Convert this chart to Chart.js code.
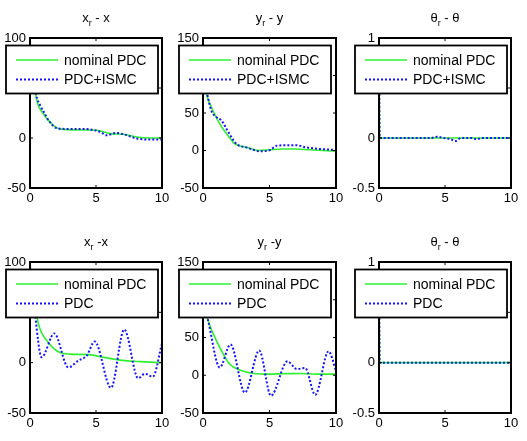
<!DOCTYPE html>
<html>
<head>
<meta charset="utf-8">
<script src="https://cdn.jsdelivr.net/npm/chart.js@4.4.1/dist/chart.umd.min.js"></script>
<style>
  html, body { margin: 0; padding: 0; background: #fff; }
  #fig { position: relative; width: 527px; height: 441px; overflow: hidden; }
  #fig canvas { position: absolute; }
</style>
</head>
<body>
<div id="fig"></div>
<script>
const FONT = "'Liberation Sans', Arial, sans-serif";
const GREEN = '#2ef02e';
const BLUE = '#1414ff';

// ── data ────────────────────────────────────────────────────
// top row: nominal PDC vs PDC+ISMC
const xTopNomT  = [0, 0.2, 0.46, 1.0, 1.77, 2.15, 2.8, 4, 5.06, 6.07, 7.08, 8.1, 9, 10];
const xTopNomV  = [97, 70, 41, 24.5, 12.7, 9.4, 8.4, 8, 7.7, 4.4, 3.7, 1, 0, 0];
const xTopSmcT  = [0, 0.2, 0.46, 0.8, 1.0, 1.5, 2.0, 3.0, 4.0, 5.0, 5.4, 5.8, 6.5, 7.1, 8.1, 9, 10];
const xTopSmcV  = [97, 72, 44, 32, 27, 16, 10, 9, 9, 7.5, 5.5, 2.7, 5, 3.7, -0.6, -1.5, -1.6];

const yTopNomT  = [0, 0.33, 0.76, 1.26, 1.89, 2.4, 3.28, 4.2, 5, 6, 7, 8, 9, 10];
const yTopNomV  = [100, 71, 53, 35.5, 19.8, 8.7, 4.2, 0, 1, 2, 2, 1, 0, -1];
const yTopSmcT  = [0, 0.33, 0.63, 1.01, 1.39, 1.77, 2.14, 2.52, 3.28, 4.3, 5.04, 5.54, 6.3, 7, 7.8, 8.8, 10];
const yTopSmcV  = [100, 74, 53, 44.5, 40, 28.8, 17.6, 8.7, 4, -1, 0.7, 6.4, 7, 7, 4, 2, 0.7];

const thTopNomT = [0, 0.05, 10];
const thTopNomV = [1, 0, 0];
const thTopSmcT = [0, 0.05, 3.9, 4.4, 4.9, 5.4, 5.8, 6.2, 7.0, 7.4, 7.8, 10];
const thTopSmcV = [1, 0, 0, 0.012, 0, -0.01, -0.03, 0, 0, -0.012, 0, 0];

// bottom row: nominal PDC vs PDC
const xBotNomT  = [0, 0.3, 0.63, 1.39, 2.27, 3, 4.4, 5.7, 7.2, 8.4, 10];
const xBotNomV  = [97, 65, 39, 20, 10, 8.5, 8, 5, 2, 1, 0];
const xBotPdcT  = [0, 0.4, 0.88, 1.84, 2.9, 3.66, 4.3, 4.9, 6.14, 7.14, 8.2, 8.7, 9.3, 10];
const xBotPdcV  = [97, 46, 5.3, 29, -4.7, 2, 7, 21, -25, 33, -15.5, -11, -14, 19];

const yBotNomT  = [0, 0.38, 1.26, 2.0, 2.77, 3.8, 5, 6, 7.3, 8.5, 10];
const yBotNomV  = [100, 72.7, 37, 15, 7, 2.4, 1.5, 2, 2.4, 1.5, 1.5];
const yBotPdcT  = [0, 0.38, 1.26, 2.07, 3.15, 4.23, 5.11, 6.35, 7.05, 7.68, 8.44, 9.44, 10];
const yBotPdcV  = [100, 72.7, 10.4, 40.7, -23, 32.7, -27, 18.4, 8.2, 9.6, -26, 31.7, 6];

const thBotNomT = [0, 0.05, 10];
const thBotNomV = [1, 0, 0];
const thBotPdcT = [0, 0.05, 10];
const thBotPdcV = [1, 0, 0];

const xTicks = { min: 0, max: 10, step: 5 };

const pts = (t, v) => t.map((x, i) => ({ x, y: v[i] }));

// ── panel layout (axes box in page pixels) ──────────────────
const PAD_L = 32, PAD_T = 32, PAD_R = 12, PAD_B = 22;

const panels = [
  { box: [30, 38, 162, 187.5],  title: ['x', 'r', ' - x'], y: [-50, 100, 50],
    nom: pts(xTopNomT, xTopNomV), alt: pts(xTopSmcT, xTopSmcV), altLabel: 'PDC+ISMC' },
  { box: [203, 38, 336, 187.5], title: ['y', 'r', ' - y'], y: [-50, 150, 50],
    nom: pts(yTopNomT, yTopNomV), alt: pts(yTopSmcT, yTopSmcV), altLabel: 'PDC+ISMC' },
  { box: [379, 38, 511, 187.5], title: ['θ', 'r', ' - θ'], y: [-0.5, 1, 0.5],
    nom: pts(thTopNomT, thTopNomV), alt: pts(thTopSmcT, thTopSmcV), altLabel: 'PDC+ISMC' },
  { box: [30, 262, 162, 412.5],  title: ['x', 'r', ' -x'], y: [-50, 100, 50],
    nom: pts(xBotNomT, xBotNomV), alt: pts(xBotPdcT, xBotPdcV), altLabel: 'PDC' },
  { box: [203, 262, 336, 412.5], title: ['y', 'r', ' -y'], y: [-50, 150, 50],
    nom: pts(yBotNomT, yBotNomV), alt: pts(yBotPdcT, yBotPdcV), altLabel: 'PDC' },
  { box: [379, 262, 511, 412.5], title: ['θ', 'r', ' - θ'], y: [-0.5, 1, 0.5],
    nom: pts(thBotNomT, thBotNomV), alt: pts(thBotPdcT, thBotPdcV), altLabel: 'PDC' },
];

// ── plugins: MATLAB-style frame, title with subscript, boxed legend ──
const framePlugin = {
  id: 'frame',
  afterDatasetsDraw(chart) {
    const { ctx, chartArea: a, scales } = chart;
    ctx.save();
    ctx.strokeStyle = '#000';
    ctx.lineWidth = 1;
    ctx.beginPath();
    scales.x.ticks.forEach(t => {
      const px = scales.x.getPixelForValue(t.value);
      ctx.moveTo(px, a.bottom); ctx.lineTo(px, a.bottom - 3);
      ctx.moveTo(px, a.top); ctx.lineTo(px, a.top + 3);
    });
    scales.y.ticks.forEach(t => {
      const py = scales.y.getPixelForValue(t.value);
      ctx.moveTo(a.left, py); ctx.lineTo(a.left + 3, py);
      ctx.moveTo(a.right, py); ctx.lineTo(a.right - 3, py);
    });
    ctx.stroke();
    ctx.lineWidth = 2;
    ctx.strokeRect(a.left, a.top, a.right - a.left, a.bottom - a.top);
    ctx.restore();
  }
};

const titleLegendPlugin = {
  id: 'titleLegend',
  afterDraw(chart, args, opts) {
    const { ctx, chartArea: a } = chart;
    ctx.save();
    // title
    const [base, sub, rest] = opts.title;
    ctx.fillStyle = '#000';
    ctx.textBaseline = 'alphabetic';
    ctx.font = `13px ${FONT}`;
    const wb = ctx.measureText(base).width;
    const wr = ctx.measureText(rest).width;
    ctx.font = `9px ${FONT}`;
    const ws = ctx.measureText(sub).width;
    const cx = (a.left + a.right) / 2;
    const by = a.top - 16;
    let x = cx - (wb + ws + wr) / 2;
    ctx.font = `13px ${FONT}`;
    ctx.fillText(base, x, by); x += wb;
    ctx.font = `9px ${FONT}`;
    ctx.fillText(sub, x, by + 4); x += ws;
    ctx.font = `13px ${FONT}`;
    ctx.fillText(rest, x, by);

    // legend
    const lx = a.left - 24, ly = a.top + 7.5, lw = 152, lh = 48;
    ctx.fillStyle = '#fff';
    ctx.fillRect(lx, ly, lw, lh);
    ctx.strokeStyle = '#000';
    ctx.lineWidth = 1.8;
    ctx.strokeRect(lx, ly, lw, lh);
    ctx.font = `14px ${FONT}`;
    ctx.textBaseline = 'middle';
    const rows = [ly + 14.5, ly + 34];
    chart.data.datasets.forEach((ds, i) => {
      const ry = rows[i];
      ctx.beginPath();
      ctx.strokeStyle = ds.borderColor;
      ctx.lineWidth = ds.borderWidth;
      ctx.setLineDash(ds.borderDash || []);
      ctx.moveTo(lx + 10, ry); ctx.lineTo(lx + 52, ry);
      ctx.stroke();
      ctx.setLineDash([]);
      ctx.fillStyle = '#000';
      ctx.fillText(ds.label, lx + 58, ry + 1);
    });
    ctx.restore();
  }
};

// ── build the six charts ────────────────────────────────────
const fig = document.getElementById('fig');

panels.forEach(p => {
  const [l, t, r, b] = p.box;
  const cv = document.createElement('canvas');
  const w = Math.round(r - l) + PAD_L + PAD_R;
  const h = Math.round(b - t) + PAD_T + PAD_B;
  cv.width = w; cv.height = h;
  cv.style.left = (l - PAD_L) + 'px';
  cv.style.top = (t - PAD_T) + 'px';
  cv.style.width = w + 'px';
  cv.style.height = h + 'px';
  fig.appendChild(cv);

  new Chart(cv.getContext('2d'), {
    type: 'line',
    data: {
      datasets: [
        {
          label: 'nominal PDC', data: p.nom,
          borderColor: GREEN, borderWidth: 1.6,
          pointRadius: 0, cubicInterpolationMode: 'monotone', order: 2,
        },
        {
          label: p.altLabel, data: p.alt,
          borderColor: BLUE, borderWidth: 2, borderDash: [2, 2],
          pointRadius: 0, cubicInterpolationMode: 'monotone', order: 1,
        },
      ]
    },
    options: {
      responsive: false,
      animation: false,
      devicePixelRatio: 1,
      layout: { padding: { left: 0, top: PAD_T, right: PAD_R, bottom: 0 } },
      plugins: {
        legend: { display: false },
        tooltip: { enabled: false },
        titleLegend: { title: p.title },
      },
      scales: {
        x: {
          type: 'linear', min: xTicks.min, max: xTicks.max,
          grid: { display: false, drawTicks: false },
          border: { display: false },
          ticks: { stepSize: xTicks.step, color: '#000', padding: 3,
                   font: { size: 13, family: FONT }, maxRotation: 0,
                   callback: v => String(+v) },
          afterFit: s => { s.height = PAD_B; },
        },
        y: {
          min: p.y[0], max: p.y[1],
          grid: { display: false, drawTicks: false },
          border: { display: false },
          ticks: { stepSize: p.y[2], color: '#000', padding: 4,
                   font: { size: 13, family: FONT },
                   callback: v => String(+v) },
          afterFit: s => { s.width = PAD_L; },
        }
      }
    },
    plugins: [framePlugin, titleLegendPlugin]
  });
});
</script>
</body>
</html>
